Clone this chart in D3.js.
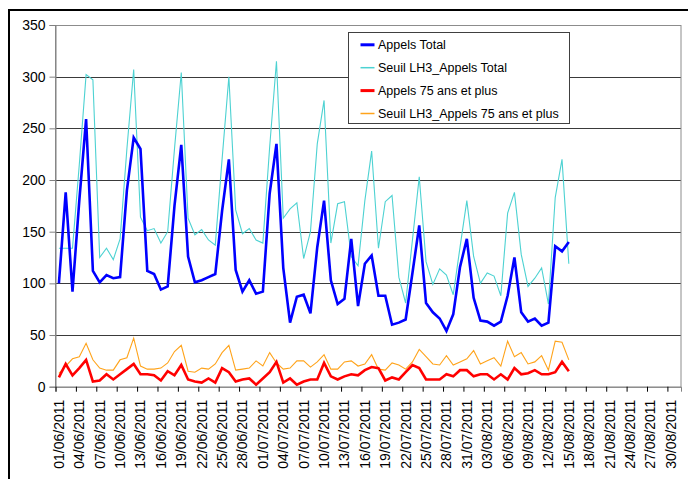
<!DOCTYPE html>
<html>
<head>
<meta charset="utf-8">
<script src="https://cdn.jsdelivr.net/npm/d3@7"></script>
<style>
  html, body { margin: 0; padding: 0; background: #fff; }
  svg { display: block; font-family: "Liberation Sans", Arial, sans-serif; }
</style>
</head>
<body>
<svg id="chart" width="688" height="479"></svg>
<script>
// ---- data ----
const startDate = "2011-06-01";
const endDate = "2011-09-01"; // exclusive, categories run 01/06/2011 .. 31/08/2011
const tickLabels = ["01/06/2011","04/06/2011","07/06/2011","10/06/2011","13/06/2011","16/06/2011",
  "19/06/2011","22/06/2011","25/06/2011","28/06/2011","01/07/2011","04/07/2011","07/07/2011",
  "10/07/2011","13/07/2011","16/07/2011","19/07/2011","22/07/2011","25/07/2011","28/07/2011",
  "31/07/2011","03/08/2011","06/08/2011","09/08/2011","12/08/2011","15/08/2011","18/08/2011",
  "21/08/2011","24/08/2011","27/08/2011","30/08/2011"];
const yTicks = [0, 50, 100, 150, 200, 250, 300, 350];

const appelsTotal = [100,188,92,180,259,112,101,108,105,106,190,241,230,112,109,94,97,175,234,126,
  101,103,106,109,170,220,113,92,103,90,92,187,235,115,62,87,89,71,135,180,
  103,80,85,143,78,119,127,88,88,60,62,65,110,156,81,72,66,54,70,116,
  143,86,64,63,59,63,88,125,72,63,66,59,62,136,131,140];
const seuilTotal = [134,134,134,215,302,297,125,134,123,143,230,307,164,151,153,139,150,230,304,163,
  147,152,142,137,220,300,171,148,153,142,139,232,315,163,172,178,124,150,235,277,
  139,177,179,126,117,180,228,134,179,185,106,81,142,203,121,99,114,108,89,135,
  180,126,100,110,107,88,168,188,128,97,105,115,80,183,220,119];
const appels75 = [9,22,11,18,26,5,6,12,7,12,17,22,12,12,11,6,15,11,21,7,
  5,4,8,4,18,14,5,7,8,2,8,14,24,4,8,2,5,7,7,23,
  10,7,10,12,11,16,19,18,6,9,7,14,21,18,7,7,7,12,10,16,
  16,10,12,12,7,12,7,18,12,13,16,12,12,14,24,15];
const seuil75 = [13,20,27,29,42,26,18,16,16,26,28,47,20,17,17,18,23,34,40,15,
  14,18,17,22,33,40,16,17,18,25,20,33,23,17,18,25,25,19,24,31,
  17,17,24,25,20,22,31,17,16,23,21,17,24,36,29,22,21,30,21,24,
  27,35,22,25,28,20,44,29,33,22,24,30,16,44,43,26];

const seriesNames = ["Appels Total", "Seuil LH3_Appels Total", "Appels 75 ans et plus", "Seuil LH3_Appels 75 ans et plus"];
const seriesData = [appelsTotal, seuilTotal, appels75, seuil75];
const seriesColors = ["#0000ff", "#4dd2d2", "#ff0000", "#ffa31a"];
const seriesWidths = [2.6, 1.1, 2.6, 1.1];

// ---- layout ----
const parse = d3.timeParse("%Y-%m-%d");
const fmt = d3.timeFormat("%d/%m/%Y");
const categories = d3.timeDay.range(parse(startDate), parse(endDate)).map(fmt);

const svg = d3.select("#chart");
const plot = { left: 55.5, right: 681, top: 25, bottom: 386.7 };

const x = d3.scaleBand().domain(categories).range([plot.left, plot.right]).paddingInner(0).paddingOuter(0);
const y = d3.scaleLinear().domain([0, 350]).range([plot.bottom, plot.top]);

// outer frame
svg.append("rect").attr("x", 9).attr("y", 10).attr("width", 700).attr("height", 500)
  .attr("fill", "none").attr("stroke", "#000").attr("stroke-width", 2);

// gridlines
svg.append("g").selectAll("line").data(yTicks.filter(d => d > 0)).join("line")
  .attr("x1", plot.left).attr("x2", plot.right)
  .attr("y1", d => Math.round(y(d)) + 0.5).attr("y2", d => Math.round(y(d)) + 0.5)
  .attr("stroke", "#3a3a3a").attr("stroke-width", 1);

// plot area border (gray)
svg.append("rect").attr("x", plot.left).attr("y", plot.top + 0.5)
  .attr("width", plot.right - plot.left).attr("height", plot.bottom - plot.top)
  .attr("fill", "none").attr("stroke", "#8c8c8c").attr("stroke-width", 1);

// y axis
const yAxis = d3.axisLeft(y).tickValues(yTicks).tickSize(6).tickPadding(4);
const gy = svg.append("g").attr("transform", `translate(${plot.left},0)`).call(yAxis);
gy.select(".domain").attr("stroke", "#808080");
gy.selectAll(".tick line").attr("stroke", "#808080");
gy.selectAll(".tick text").attr("font-size", 14).attr("fill", "#000")
  .attr("font-family", "'Liberation Sans', Arial, sans-serif");

// x axis: tick marks at category boundaries every 3 categories
const boundaryIdx = d3.range(0, categories.length + 1, 3);
const xb = d3.scaleLinear().domain([0, categories.length]).range([plot.left, plot.right]);
const gxTicks = svg.append("g").attr("transform", `translate(0,${plot.bottom})`)
  .call(d3.axisBottom(xb).tickValues(boundaryIdx).tickSize(5).tickFormat(""));
gxTicks.select(".domain").attr("stroke", "#808080");
gxTicks.selectAll(".tick line").attr("stroke", "#000");

// x labels centered on categories
const labelCats = categories.filter(c => tickLabels.includes(c));
const gx = svg.append("g").attr("transform", `translate(0,${plot.bottom})`)
  .call(d3.axisBottom(x).tickValues(labelCats).tickSize(0).tickPadding(0));
gx.select(".domain").remove();
gx.selectAll(".tick text")
  .attr("font-size", 14).attr("fill", "#000")
  .attr("font-family", "'Liberation Sans', Arial, sans-serif")
  .attr("text-anchor", "end")
  .attr("dy", "0.35em")
  .attr("transform", "translate(0,13) rotate(-90)")
  .attr("x", 0).attr("y", 0);

// series lines
const line = d3.line()
  .x((d, i) => x(categories[i]) + x.bandwidth() / 2)
  .y(d => y(d));

const drawOrder = [1, 3, 0, 2];
drawOrder.forEach(k => {
  svg.append("path").datum(seriesData[k])
    .attr("fill", "none")
    .attr("stroke", seriesColors[k])
    .attr("stroke-width", seriesWidths[k])
    .attr("stroke-linejoin", "miter")
    .attr("d", line);
});

// legend
const lg = svg.append("g").attr("transform", "translate(348.5,32.5)");
lg.append("rect").attr("width", 221).attr("height", 91)
  .attr("fill", "#fff").attr("stroke", "#404040").attr("stroke-width", 1);
seriesNames.forEach((name, i) => {
  const cy = 12.3 + i * 22.9;
  lg.append("line").attr("x1", 12).attr("x2", 26).attr("y1", cy).attr("y2", cy)
    .attr("stroke", seriesColors[i]).attr("stroke-width", seriesWidths[i] > 2 ? 3 : 1.5);
  lg.append("text").attr("x", 29.5).attr("y", cy).attr("dy", "0.36em")
    .attr("font-size", 12.5).attr("fill", "#000").text(name);
});
</script>
</body>
</html>
